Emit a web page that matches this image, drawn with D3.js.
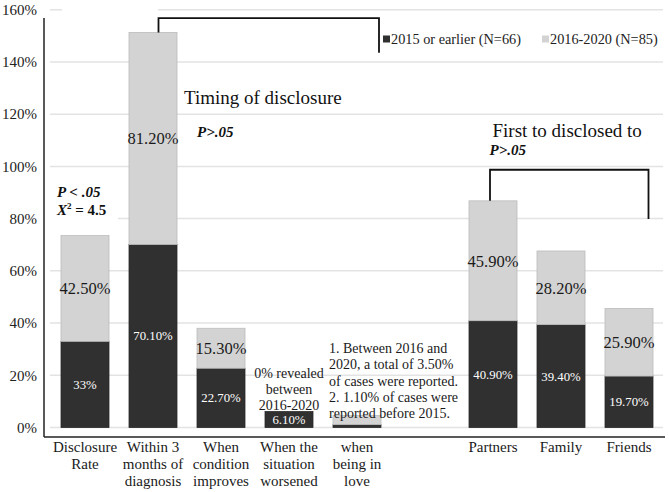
<!DOCTYPE html>
<html>
<head>
<meta charset="utf-8">
<script src="https://cdn.jsdelivr.net/npm/d3@7/dist/d3.min.js"></script>
</head>
<body style="margin:0;padding:0;background:#fff">
<svg id="chart" width="669" height="492" font-family="Liberation Serif" style="display:block"></svg>
<script>
// ---- data ----
const categoryLabels = [
  ["Disclosure", "Rate"],
  ["Within 3", "months of", "diagnosis"],
  ["When", "condition", "improves"],
  ["When the", "situation", "worsened"],
  ["when", "being in", "love"],
  [],
  ["Partners"],
  ["Family"],
  ["Friends"]
];
const seriesNames = ["2015 or earlier (N=66)", "2016-2020 (N=85)"];
const early  = [33, 70.1, 22.7, 6.1, 1.1, null, 40.9, 39.4, 19.7];
const recent = [40.5, 81.2, 15.3, 0, 3.5, null, 45.9, 28.2, 25.9];
const earlyLabels  = ["33%", "70.10%", "22.70%", "6.10%", "", "", "40.90%", "39.40%", "19.70%"];
const recentLabels = ["42.50%", "81.20%", "15.30%", "", "", "", "45.90%", "28.20%", "25.90%"];
const yTicks = [0, 20, 40, 60, 80, 100, 120, 140, 160];
const worsenedNote = ["0% revealed", "between", "2016-2020"];
const loveNote = ["1. Between 2016 and", "2020, a total of 3.50%", "of cases were reported.", "2. 1.10% of cases were", "reported before 2015."];

// ---- styles ----
const FONT = "Liberation Serif";
const darkFill = "#303030", lightFill = "#d3d3d3", lightStroke = "#bcbcbc", gridColor = "#e3e3e3";

const svg = d3.select("#chart");
const idx = d3.range(categoryLabels.length);
const x = d3.scaleBand().domain(idx).range([51, 663]).paddingInner(20 / 68).paddingOuter(10 / 68);
const y = d3.scaleLinear().domain([0, 160]).range([427.5, 9.7]);
const bw = x.bandwidth();
const cx = i => x(i) + bw / 2;

const txt = (sel) => sel.append("text").attr("font-family", FONT);

// gridlines
svg.append("g").selectAll("line").data(yTicks).join("line")
  .attr("x1", 50).attr("x2", 663)
  .attr("y1", d => y(d)).attr("y2", d => y(d))
  .attr("stroke", gridColor).attr("stroke-width", 1.5);
svg.append("rect").attr("x", 62).attr("y", y(160) - 3).attr("width", 96).attr("height", 6).attr("fill", "#fff");

// y axis labels
const yAxis = d3.axisLeft(y).tickValues(yTicks).tickSize(0).tickPadding(7).tickFormat(d => d + "%");
const gy = svg.append("g").attr("transform", "translate(44,0)").call(yAxis);
gy.attr("font-family", FONT).attr("font-size", 15);
gy.select(".domain").remove();
gy.selectAll("text").attr("font-family", FONT).attr("font-size", 15).attr("fill", "#222");

// axes lines
svg.append("line").attr("x1", 44).attr("x2", 44).attr("y1", 18).attr("y2", 437).attr("stroke", "#222").attr("stroke-width", 1.5);
svg.append("line").attr("x1", 44).attr("x2", 665).attr("y1", 437).attr("y2", 437).attr("stroke", "#222").attr("stroke-width", 1.5);

// bars
const rows = idx.filter(i => early[i] !== null);
const bars = svg.append("g");
bars.selectAll("rect.early").data(rows).join("rect").attr("class", "early")
  .attr("x", i => x(i)).attr("width", bw)
  .attr("y", i => y(early[i])).attr("height", i => y(0) - y(early[i]))
  .attr("fill", darkFill).attr("stroke", "#2a2a2a").attr("stroke-width", 0.8);
bars.selectAll("rect.recent").data(rows.filter(i => recent[i] > 0)).join("rect").attr("class", "recent")
  .attr("x", i => x(i)).attr("width", bw)
  .attr("y", i => y(early[i] + recent[i])).attr("height", i => y(early[i]) - y(early[i] + recent[i]))
  .attr("fill", lightFill).attr("stroke", lightStroke).attr("stroke-width", 0.8);

// value labels
svg.append("g").selectAll("text").data(rows.filter(i => earlyLabels[i])).join("text")
  .attr("font-family", FONT)
  .attr("x", cx).attr("y", i => (y(0) + y(early[i])) / 2).attr("dy", "0.35em")
  .attr("text-anchor", "middle").attr("font-size", 12.8).attr("fill", "#fff")
  .text(i => earlyLabels[i]);
svg.append("g").selectAll("text").data(rows.filter(i => recentLabels[i])).join("text")
  .attr("font-family", FONT)
  .attr("x", cx).attr("y", i => (y(early[i]) + y(early[i] + recent[i])) / 2).attr("dy", "0.35em")
  .attr("text-anchor", "middle").attr("font-size", 16.5).attr("fill", "#1a1a1a")
  .text(i => recentLabels[i]);

// category labels
const cl = svg.append("g");
idx.forEach(i => {
  categoryLabels[i].forEach((t, k) => {
    txt(cl).attr("x", cx(i)).attr("y", 451.5 + k * 17)
      .attr("text-anchor", "middle").attr("font-size", 15).attr("fill", "#1a1a1a").text(t);
  });
});

// worsened note
worsenedNote.forEach((t, k) => {
  txt(svg).attr("x", cx(3)).attr("y", 378 + k * 16)
    .attr("text-anchor", "middle").attr("font-size", 14).attr("fill", "#1a1a1a").text(t);
});
// love note
loveNote.forEach((t, k) => {
  txt(svg).attr("x", x(4) - 4).attr("y", 353 + k * 16.3)
    .attr("font-size", 14).attr("fill", "#1a1a1a").text(t);
});

// P < .05 block with white background
svg.append("rect").attr("x", 50).attr("y", 180).attr("width", 68).attr("height", 42).attr("fill", "#fff");
txt(svg).attr("x", 57).attr("y", 196.7).attr("font-size", 15).attr("font-weight", "bold").attr("font-style", "italic").attr("fill", "#111").text("P < .05");
const chi = txt(svg).attr("x", 57).attr("y", 215).attr("font-size", 15).attr("font-weight", "bold").attr("fill", "#111");
chi.append("tspan").attr("font-style", "italic").text("X");
chi.append("tspan").attr("font-size", 9).attr("dy", -6).text("2");
chi.append("tspan").attr("dy", 6).text(" = 4.5");

// brackets
const bracket = (x1, yl, yTop, x2, yr) => {
  svg.append("path")
    .attr("d", `M${x1},${yl}V${yTop}H${x2}V${yr}`)
    .attr("fill", "none").attr("stroke", "#111").attr("stroke-width", 1.8);
};
bracket(cx(1) + 5.5, y(early[1] + recent[1]), y(156.8), x(4) + bw - 2, y(143.5));
bracket(cx(6) - 3, y(early[6] + recent[6]), y(98.7), cx(8) + 19.5, y(79.8));

// annotations
txt(svg).attr("x", 184).attr("y", 104).attr("font-size", 19).attr("fill", "#111").text("Timing of disclosure");
txt(svg).attr("x", 197).attr("y", 136.7).attr("font-size", 15).attr("font-weight", "bold").attr("font-style", "italic").attr("fill", "#111").text("P>.05");
txt(svg).attr("x", 492.5).attr("y", 137).attr("font-size", 19).attr("fill", "#111").text("First to disclosed to");
txt(svg).attr("x", 489.5).attr("y", 155).attr("font-size", 15).attr("font-weight", "bold").attr("font-style", "italic").attr("fill", "#111").text("P>.05");

// legend
const legendX = [383, 542];
const legendFill = [darkFill, lightFill];
seriesNames.forEach((n, k) => {
  svg.append("rect").attr("x", legendX[k]).attr("y", 35.5).attr("width", 7).attr("height", 7).attr("fill", legendFill[k]);
  txt(svg).attr("x", legendX[k] + 8).attr("y", 44).attr("font-size", 14.3).attr("fill", "#222").text(n);
});
</script>
</body>
</html>
